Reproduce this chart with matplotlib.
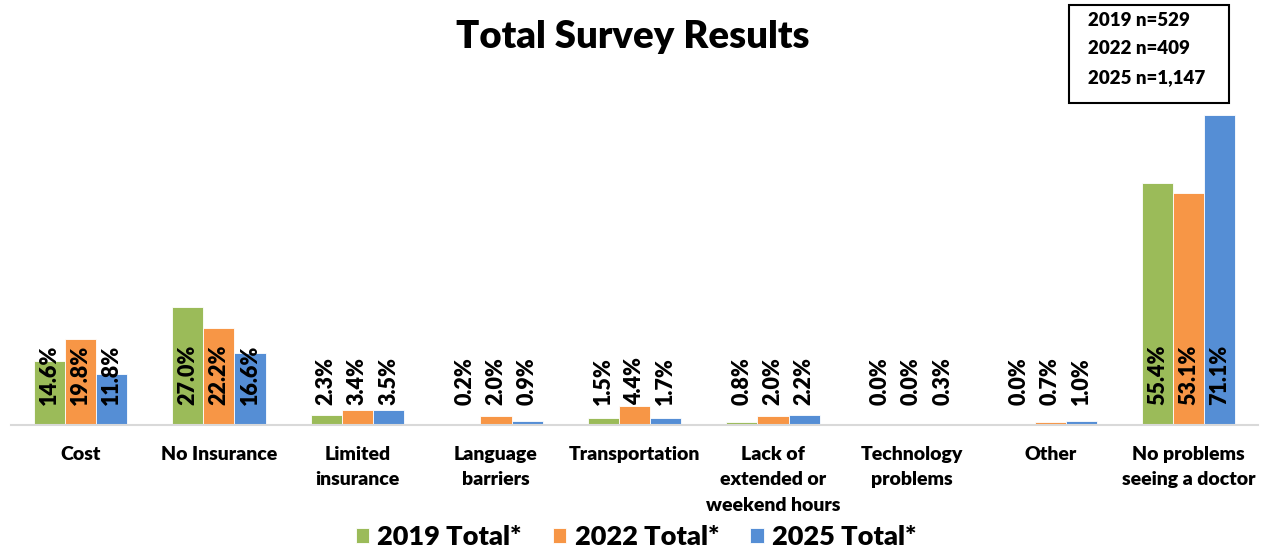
import matplotlib.pyplot as plt
import numpy as np
from matplotlib.patches import Rectangle

plt.rcParams['font.family'] = ['Lato', 'DejaVu Sans']

categories = ["Cost", "No Insurance", "Limited\ninsurance", "Language\nbarriers",
              "Transportation", "Lack of\nextended or\nweekend hours",
              "Technology\nproblems", "Other", "No problems\nseeing a doctor"]
series_names = ["2019 Total*", "2022 Total*", "2025 Total*"]
vals_2019 = [14.6, 27.0, 2.3, 0.2, 1.5, 0.8, 0.0, 0.0, 55.4]
vals_2022 = [19.8, 22.2, 3.4, 2.0, 4.4, 2.0, 0.0, 0.7, 53.1]
vals_2025 = [11.8, 16.6, 3.5, 0.9, 1.7, 2.2, 0.3, 1.0, 71.1]
sample_text = "2019 n=529\n2022 n=409\n2025 n=1,147"

colors = ["#9BBB59", "#F79646", "#558ED5"]
heavy = "heavy"

fig = plt.figure(figsize=(12.61, 5.51), dpi=100)
ax = fig.add_axes([11 / 1261, 126 / 551, 1247 / 1261, 349 / 551])

x = np.arange(len(categories))
w = 0.225
for i, (vals, name, c) in enumerate(zip([vals_2019, vals_2022, vals_2025], series_names, colors)):
    pos = x + (i - 1) * w
    ax.bar(pos, vals, width=w, color=c, edgecolor="white", linewidth=0.6, label=name)
    for p, v in zip(pos, vals):
        ax.text(p, 4.6, f"{v:.1f}%", rotation=90, ha="center", va="bottom",
                fontsize=15.5, fontweight=heavy, color="black")

ax.set_xlim(-0.5, len(categories) - 0.5)
ax.set_ylim(0, 80)
ax.set_yticks([])
ax.set_xticks(x)
ax.set_xticklabels(categories, fontsize=14, fontweight=heavy, linespacing=1.6)
ax.tick_params(axis="x", length=0, pad=15)
for s in ["top", "right", "left"]:
    ax.spines[s].set_visible(False)
ax.spines["bottom"].set_color("#D9D9D9")
ax.spines["bottom"].set_linewidth(1.5)

fig.text(633 / 1261, 1 - 37 / 551, "Total Survey Results", ha="center", va="center",
         fontsize=27.5, fontweight=heavy)

fig.patches.append(Rectangle((1069 / 1261, 1 - 103 / 551), 160 / 1261, 98 / 551,
                             transform=fig.transFigure, fill=False,
                             edgecolor="black", linewidth=1.5))
fig.text(1088 / 1261, 1 - 49 / 551, sample_text, ha="left", va="center",
         fontsize=13.5, fontweight=heavy, linespacing=1.8)

leg = fig.legend(loc="center", bbox_to_anchor=(636 / 1261, 1 - 537 / 551), ncol=3,
                 frameon=False, prop={"weight": heavy, "size": 19.5},
                 handlelength=0.5, handleheight=0.5, handletextpad=0.3,
                 columnspacing=1.15)

fig.savefig("out.png", dpi=100)
